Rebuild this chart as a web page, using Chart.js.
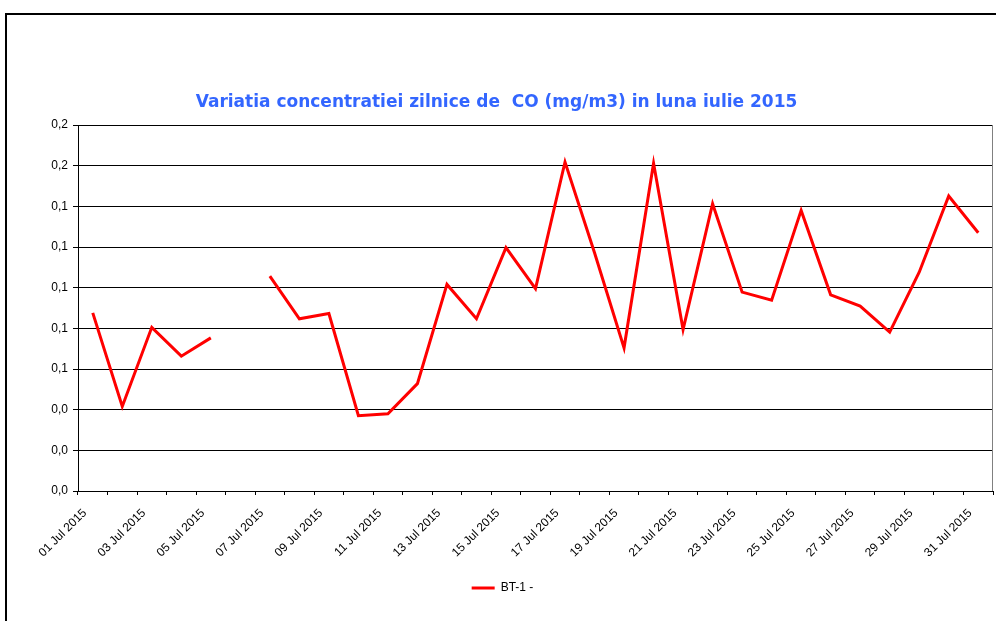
<!DOCTYPE html>
<html>
<head>
<meta charset="utf-8">
<script src="https://cdn.jsdelivr.net/npm/chart.js@4.4.1/dist/chart.umd.min.js"></script>
<style>
  html, body { margin: 0; padding: 0; background: #ffffff; }
  canvas { display: block; }
</style>
</head>
<body>
<canvas id="c" width="996" height="621"></canvas>
<script>
// ---- data ----
const days = [
  '01 Jul 2015','02 Jul 2015','03 Jul 2015','04 Jul 2015','05 Jul 2015','06 Jul 2015',
  '07 Jul 2015','08 Jul 2015','09 Jul 2015','10 Jul 2015','11 Jul 2015','12 Jul 2015',
  '13 Jul 2015','14 Jul 2015','15 Jul 2015','16 Jul 2015','17 Jul 2015','18 Jul 2015',
  '19 Jul 2015','20 Jul 2015','21 Jul 2015','22 Jul 2015','23 Jul 2015','24 Jul 2015',
  '25 Jul 2015','26 Jul 2015','27 Jul 2015','28 Jul 2015','29 Jul 2015','30 Jul 2015',
  '31 Jul 2015'
];
const coBT1 = [
  0.0876, 0.0416, 0.0805, 0.0663, 0.0753, null,
  0.1057, 0.0847, 0.0873, 0.0370, 0.0380, 0.0528,
  0.1016, 0.0847, 0.1197, 0.0995, 0.1618, 0.1172,
  0.0704, 0.1612, 0.0794, 0.1413, 0.0978, 0.0938,
  0.1380, 0.0965, 0.0909, 0.0781, 0.1076, 0.1451,
  0.1270
];
const seriesName = 'BT-1 -';
const chartTitle = 'Variatia concentratiei zilnice de  CO (mg/m3) in luna iulie 2015';
const yMin = 0;
const yMax = 0.18;
const yStep = 0.02;

// ---- layout constants ----
const PLOT_LEFT = 78;
const PLOT_BOTTOM = 491;
const LEGEND_TOP = 572;

const framePlugin = {
  id: 'frame',
  afterLayout(chart) {
    chart.legend.left += 6;
    chart.legend.right += 6;
  },
  afterDraw(chart) {
    const ctx = chart.ctx;
    const a = chart.chartArea;
    ctx.save();
    ctx.fillStyle = '#000000';
    ctx.fillRect(5, 13, 991, 2);
    ctx.fillRect(5, 13, 2, 608);
    ctx.strokeStyle = '#808080';
    ctx.lineWidth = 1;
    ctx.beginPath();
    ctx.moveTo(Math.round(a.right) - 0.5, a.top);
    ctx.lineTo(Math.round(a.right) - 0.5, a.bottom);
    ctx.stroke();
    ctx.restore();
  }
};

new Chart(document.getElementById('c'), {
  type: 'line',
  data: {
    labels: days,
    datasets: [{
      label: seriesName,
      data: coBT1,
      borderColor: '#FF0000',
      backgroundColor: '#FF0000',
      borderWidth: 3,
      pointRadius: 0,
      pointHoverRadius: 0,
      tension: 0,
      spanGaps: false,
      fill: false
    }]
  },
  options: {
    responsive: false,
    animation: false,
    events: [],
    layout: { padding: { left: 0, right: 3, top: 0, bottom: 17 } },
    plugins: {
      title: {
        display: true,
        text: chartTitle,
        color: '#3366FF',
        font: { family: 'DejaVu Sans', size: 17, weight: 'bold' },
        padding: { top: 92, bottom: 12.6 }
      },
      legend: {
        display: true,
        position: 'bottom',
        labels: {
          color: '#000000',
          font: { family: 'Liberation Sans', size: 12 },
          boxWidth: 23,
          boxHeight: 3,
          padding: 10,
          generateLabels(chart) {
            const items = Chart.defaults.plugins.legend.labels.generateLabels(chart);
            return items.map(it => Object.assign(it, { lineWidth: 0, fillStyle: '#FF0000' }));
          }
        }
      },
      tooltip: { enabled: false }
    },
    scales: {
      x: {
        type: 'category',
        offset: true,
        afterFit(scale) {
          scale.height = LEGEND_TOP - PLOT_BOTTOM;
          scale.paddingLeft = 0;
          scale.paddingRight = 0;
        },
        grid: {
          offset: true,
          drawOnChartArea: false,
          drawTicks: true,
          tickLength: 4,
          color: '#000000',
          lineWidth: 1
        },
        border: { display: true, color: '#000000', width: 1 },
        ticks: {
          autoSkip: false,
          maxRotation: 45,
          minRotation: 45,
          padding: 11,
          labelOffset: -8,
          color: '#000000',
          font: { family: 'Liberation Sans', size: 12 },
          callback(value, index) {
            return index % 2 === 0 ? this.getLabelForValue(value) : '';
          }
        }
      },
      y: {
        min: yMin,
        max: yMax,
        afterFit(scale) { scale.width = PLOT_LEFT; },
        grid: {
          drawOnChartArea: true,
          drawTicks: true,
          tickLength: 5,
          color: '#000000',
          lineWidth: 1
        },
        border: { display: true, color: '#000000', width: 1 },
        ticks: {
          stepSize: yStep,
          padding: 5,
          color: '#000000',
          font: { family: 'Liberation Sans', size: 12 },
          callback(value) { return value.toFixed(1).replace('.', ','); }
        }
      }
    }
  },
  plugins: [framePlugin]
});
</script>
</body>
</html>
